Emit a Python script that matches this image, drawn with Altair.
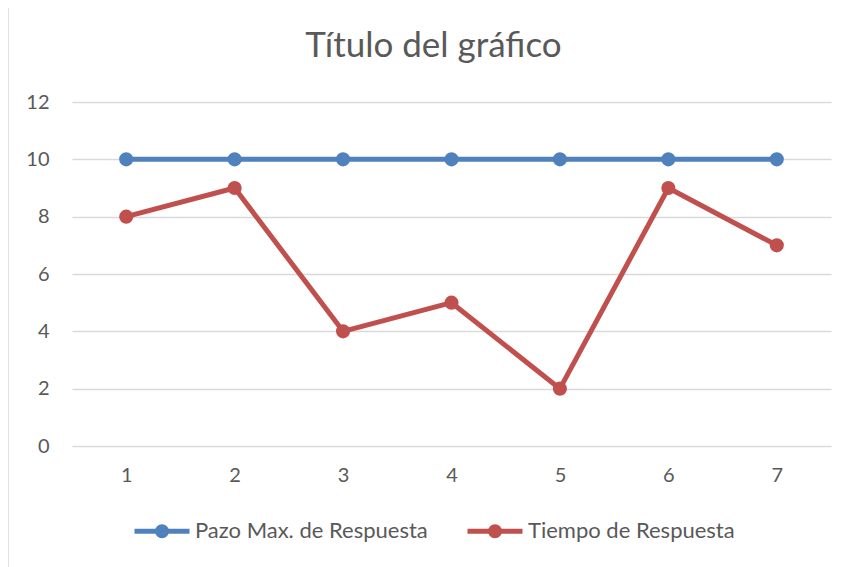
import altair as alt
import pandas as pd

categories = [1, 2, 3, 4, 5, 6, 7]
pazo_max = [10, 10, 10, 10, 10, 10, 10]
tiempo = [8, 9, 4, 5, 2, 9, 7]
series_names = ["Pazo Max. de Respuesta", "Tiempo de Respuesta"]
series_colors = ["#4F81BD", "#C0504D"]
y_ticks = [0, 2, 4, 6, 8, 10, 12]

rows = []
for c, v in zip(categories, pazo_max):
    rows.append({"cat": str(c), "val": v, "serie": series_names[0]})
for c, v in zip(categories, tiempo):
    rows.append({"cat": str(c), "val": v, "serie": series_names[1]})
df = pd.DataFrame(rows)

TXT = "#595959"
FONT = "Lato"

legend_path = ("M-1,0L1,0"
               "M-0.1636,0A0.1636,0.1636,0,1,0,0.1636,0A0.1636,0.1636,0,1,0,-0.1636,0"
               "M-0.0727,0A0.0727,0.0727,0,1,0,0.0727,0A0.0727,0.0727,0,1,0,-0.0727,0")

x_enc = alt.X("cat:O", sort=[str(c) for c in categories],
              scale=alt.Scale(type="point", padding=0.5),
              axis=alt.Axis(title=None, labelAngle=0, ticks=False, domain=False,
                            labelPadding=19, labelFontSize=20, labelColor=TXT,
                            labelFont=FONT, grid=False))
y_enc = alt.Y("val:Q", scale=alt.Scale(domain=[0, 12], nice=False),
              axis=alt.Axis(title=None, values=y_ticks, ticks=False, domain=False,
                            labelPadding=23, labelFontSize=20, labelColor=TXT,
                            labelFont=FONT, grid=True, gridColor="#D9D9D9",
                            gridWidth=1.5))
color_enc = alt.Color("serie:N",
                      scale=alt.Scale(domain=series_names, range=series_colors),
                      legend=alt.Legend(title=None, orient="none", direction="horizontal",
                                        legendX=60, legendY=399,
                                        symbolType=legend_path, symbolSize=3025,
                                        symbolStrokeWidth=5, labelOffset=3,
                                        columnPadding=29, labelFontSize=22,
                                        labelColor=TXT, labelFont=FONT, padding=0,
                                        labelLimit=400))

base = alt.Chart(df).encode(x=x_enc, y=y_enc, color=color_enc)
lines = base.mark_line(strokeWidth=5, strokeJoin="round", strokeCap="round")
points = base.mark_point(filled=True, size=200, opacity=1)

border = alt.Chart(pd.DataFrame({"a": [0]})).mark_rule(color="#D9D9D9", strokeWidth=1.5).encode(
    x=alt.value(-64), x2=alt.value(-64), y=alt.value(-97), y2=alt.value(480))
border_top = alt.Chart(pd.DataFrame({"a": [0]})).mark_rule(color="#D9D9D9", strokeWidth=1.5).encode(
    x=alt.value(-64), x2=alt.value(790), y=alt.value(-97), y2=alt.value(-97))

chart = alt.layer(border, border_top, lines, points).properties(
    width=759, height=344,
    title=alt.TitleParams("Título del gráfico", fontSize=35, font=FONT, color=TXT,
                          fontWeight="normal", anchor="middle", dx=-18,
                          frame="group", baseline="alphabetic", offset=-88),
    autosize=alt.AutoSizeParams(type="none"),
    padding={"left": 64, "top": 94, "right": 10, "bottom": 130},
).configure(background="white").configure_view(stroke=None)

chart.save("out.html", embed_options={"renderer": "svg", "actions": False})
